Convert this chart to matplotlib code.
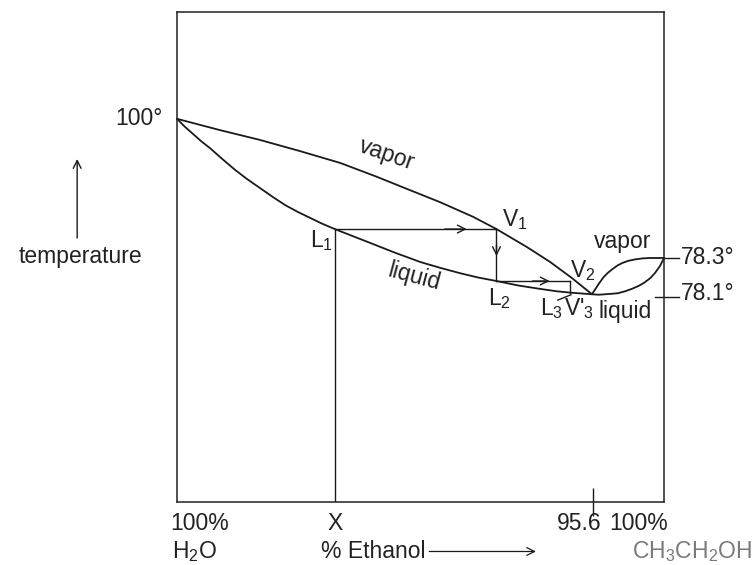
import numpy as np
import matplotlib.pyplot as plt

plt.rcParams['font.family'] = ['Liberation Sans', 'DejaVu Sans']
plt.rcParams['mathtext.fontset'] = 'custom'
plt.rcParams['mathtext.rm'] = 'Liberation Sans'
plt.rcParams['mathtext.it'] = 'Liberation Sans'
plt.rcParams['mathtext.default'] = 'regular'

# schematic coordinates: x = composition position (0 = pure water, 100 = pure ethanol)
# y = schematic temperature position
vapor_x = [0, 8.8, 17.0, 25.3, 33.5, 40.7, 47.2, 54.0, 60.8, 65.6, 71.9, 76.6, 81.1, 85.2]
vapor_y = [78.2, 75.9, 73.9, 71.6, 69.2, 66.5, 63.9, 61.2, 58.2, 55.7, 52.0, 49.0, 45.7, 42.4]
liquid_x = [0, 1.6, 3.3, 5.0, 6.8, 9.3, 11.9, 14.4, 17.0, 19.6, 22.2, 24.8, 27.3, 29.8, 32.4,
            36.0, 39.6, 44.7, 49.9, 54.0, 58.1, 61.9, 65.6, 70.0, 74.5, 78.0, 81.1, 85.2]
liquid_y = [78.2, 76.6, 75.1, 73.6, 72.2, 70.0, 67.8, 65.9, 64.1, 62.3, 60.6, 59.2, 58.0, 56.8, 55.7,
            54.3, 52.9, 50.9, 49.0, 47.8, 46.7, 45.8, 45.1, 44.2, 43.5, 43.0, 42.7, 42.4]

# azeotrope -> pure ethanol lens
lens_vap_x = [85.2, 86.0, 86.8, 87.6, 88.5, 89.5, 90.5, 91.5, 92.6, 94.0, 95.5, 97.0, 98.5, 100]
lens_vap_y = [42.4, 43.6, 44.8, 45.9, 46.8, 47.6, 48.3, 48.8, 49.2, 49.5, 49.7, 49.8, 49.8, 49.8]
lens_liq_x = [85.2, 86.6, 88.0, 89.3, 90.5, 92.0, 93.4, 94.8, 96.0, 97.2, 98.2, 99.2, 100]
lens_liq_y = [42.4, 42.3, 42.4, 42.5, 42.6, 43.0, 43.5, 44.1, 44.8, 45.7, 46.8, 48.2, 49.8]

# distillation steps L1 -> V1 -> L2 -> L3
x_X = 32.4
y_L1 = 55.7
x_V1 = 65.6
y_L2 = 45.1
x_L3 = 80.8
y_L3 = 42.7
x_azeo = 85.5
y_bp_water = 78.2
y_bp_eth = 49.8
y_azeo = 41.9

fig = plt.figure(figsize=(7.56, 5.65), dpi=100)
ax = fig.add_axes([177/756, 63/565, 487/756, 490/565])
ax.set_xlim(0, 100)
ax.set_ylim(0, 100)
for s in ax.spines.values():
    s.set_linewidth(1.1)
    s.set_color('#222222')

lc = '#1a1a1a'
kw = dict(color=lc, lw=1.3, clip_on=False, solid_capstyle='round', solid_joinstyle='round')
ax.plot(vapor_x, vapor_y, **kw)
ax.plot(liquid_x, liquid_y, **kw)
ax.plot(lens_vap_x, lens_vap_y, **kw)
ax.plot(lens_liq_x, lens_liq_y, **kw)

# tie lines
lw = dict(color=lc, lw=1.0)
ax.plot([x_X, x_X], [0, y_L1], **lw)
ax.plot([x_X, x_V1], [y_L1, y_L1], **lw)
ax.plot([x_V1, x_V1], [y_L1, y_L2], **lw)
ax.plot([x_V1, x_L3], [y_L2, y_L2], **lw)
ax.plot([x_L3, x_L3], [y_L2, y_L3], **lw)
ap = dict(arrowstyle='->', color=lc, lw=1.0, mutation_scale=14, shrinkA=0, shrinkB=0)
ax.annotate('', xy=(59.5, y_L1), xytext=(55.0, y_L1), arrowprops=ap)
ax.annotate('', xy=(x_V1, 50.2), xytext=(x_V1, 52.5), arrowprops=ap)
ax.annotate('', xy=(76.5, y_L2), xytext=(73.0, y_L2), arrowprops=ap)
ax.plot([78.2, 80.9], [41.2, 42.3], **lw)

# 95.6 tick
ax.set_xticks([x_azeo])
ax.set_xticklabels([''])
ax.set_yticks([])
ax.tick_params(axis='x', direction='inout', length=20, width=1.0, color=lc)

# right-side temperature ticks
ax.plot([100, 103.1], [y_bp_eth, y_bp_eth], clip_on=False, **lw)
ax.plot([98.2, 103.1], [y_azeo, y_azeo], clip_on=False, **lw)

fs = 16.5
tc = '#222222'
t = dict(fontsize=fs, color=tc, va='center', clip_on=False)
ax.text(-3.0, y_bp_water, '100°', ha='right', **t)
ax.text(-19.9, 50.0, 'temperature', ha='center', **t)
ax.annotate('', xy=(-20.5, 70.0), xytext=(-20.5, 53.9), annotation_clip=False,
            arrowprops=dict(arrowstyle='->', color=lc, lw=1.0, mutation_scale=14, shrinkA=0, shrinkB=0))
ax.text(43.0, 71.0, 'vapor', ha='center', rotation=-19, **t)
ax.text(48.8, 46.0, 'liquid', ha='center', rotation=-15, **t)
ax.text(69.4, 57.6, r'V$_1$', ha='center', **t)
ax.text(29.6, 53.3, r'L$_1$', ha='center', **t)
ax.text(66.3, 41.6, r'L$_2$', ha='center', **t)
ax.text(83.4, 47.3, r'V$_2$', ha='center', **t)
ax.text(77.0, 39.4, r'L$_3$', ha='center', **t)
ax.text(82.6, 39.4, r"V$'_3$", ha='center', **t)
ax.text(91.4, 53.1, 'vapor', ha='center', **t)
ax.text(92.0, 38.8, 'liquid', ha='center', **t)
ax.text(103.5, y_bp_eth, '78.3°', ha='left', **t)
ax.text(103.5, y_azeo + 0.6, '78.1°', ha='left', **t)

# bottom labels
ax.text(4.7, -4.4, '100%', ha='center', **t)
ax.text(3.7, -10.1, r'H$_2$O', ha='center', **t)
ax.text(x_X, -4.4, 'X', ha='center', **t)
ax.text(29.6, -10.1, '% Ethanol', ha='left', **t)
ax.annotate('', xy=(73.7, -10.1), xytext=(51.8, -10.1), annotation_clip=False,
            arrowprops=dict(arrowstyle='->', color=lc, lw=0.9, mutation_scale=14, shrinkA=0, shrinkB=0))
ax.text(82.6, -4.4, '95.6', ha='center', **t)
ax.text(94.8, -4.4, '100%', ha='center', **t)
t2 = dict(t)
t2['color'] = '#7a7a7a'
ax.text(105.8, -10.1, r'CH$_3$CH$_2$OH', ha='center', **t2)

fig.savefig('out.png', dpi=100)
